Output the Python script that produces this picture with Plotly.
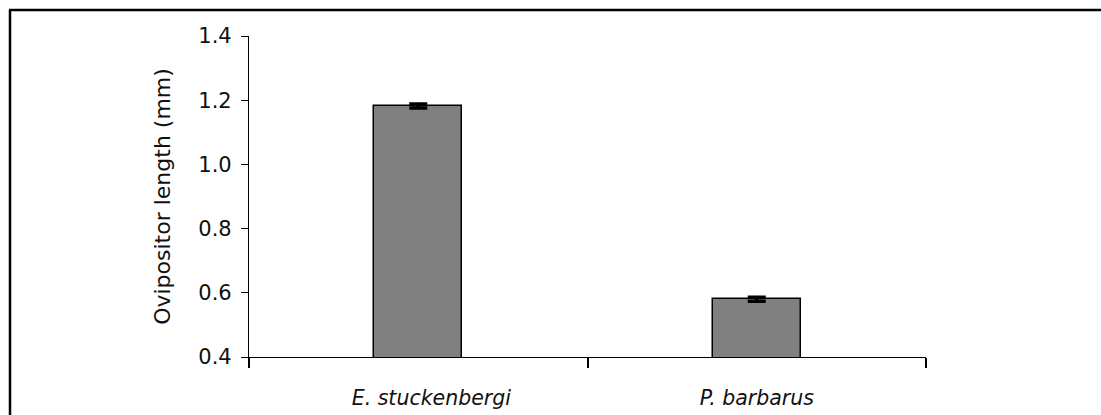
import plotly.graph_objects as go

categories = ["\u00a0\u00a0\u00a0\u00a0<i>E. stuckenbergi</i>", "<i>P. barbarus</i>"]
lengths = [1.182, 0.58]
errors = [0.006, 0.006]
y_ticks = [0.4, 0.6, 0.8, 1.0, 1.2, 1.4]

W, H = 1101, 415
L, R, T, B = 249, 926, 36, 357

def px(x):
    return (x - L) / (R - L)

def py(y):
    return (B - y) / (B - T)

fig = go.Figure()
fig.add_trace(go.Bar(
    x=categories, y=lengths, width=0.26,
    marker=dict(color="#808080", line=dict(color="black", width=1.5)),
    error_y=dict(type="data", array=errors, visible=True, color="black", thickness=3.5, width=9),
))

FAM = "DejaVu Sans, Arial, sans-serif"
font = dict(family=FAM, size=21, color="#111111")

fig.update_layout(
    width=W, height=H,
    margin=dict(l=L, r=W - R, t=T, b=H - B),
    plot_bgcolor="white", paper_bgcolor="white",
    showlegend=False,
    font=font,
    bargap=0,
    xaxis=dict(
        automargin=False,
        showline=True, linecolor="black", linewidth=1.2,
        ticks="outside", tickson="boundaries", ticklen=10, tickcolor="black", tickwidth=1.5,
        showgrid=False, tickfont=dict(family=FAM, size=20.5), ticklabelstandoff=22,
    ),
    yaxis=dict(
        automargin=False,
        range=[0.4, 1.4], tickvals=y_ticks, tickformat=".1f",
        showline=True, linecolor="black", linewidth=1.2,
        ticks="outside", ticklen=7, tickcolor="black", tickwidth=1.2,
        showgrid=False, zeroline=False, ticklabelstandoff=5,
        tickfont=dict(family=FAM, size=21),
        title=dict(text="Ovipositor length (mm)", font=dict(family=FAM, size=22), standoff=21),
    ),
    shapes=[
        dict(type="line", xref="paper", yref="paper", x0=px(10), x1=px(10), y0=py(416), y1=py(10),
             line=dict(color="black", width=2.5)),
        dict(type="line", xref="paper", yref="paper", x0=px(9), x1=px(1102), y0=py(10), y1=py(10),
             line=dict(color="black", width=2.5)),
    ],
)

fig.write_html("out.html")
